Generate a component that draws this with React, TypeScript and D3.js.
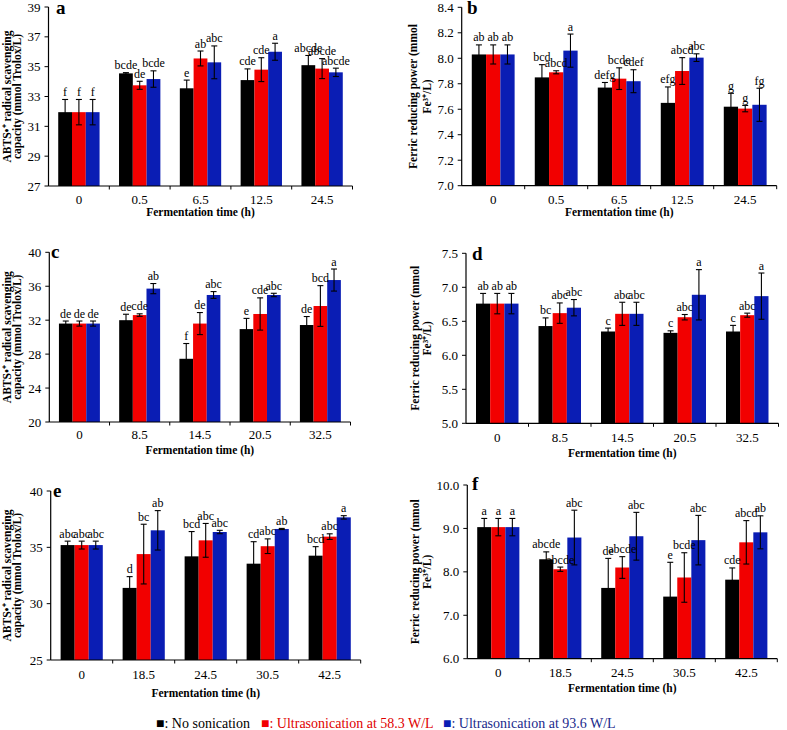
import React from "react";
import * as d3 from "d3";

const W = 787;
const H = 730;

// ---------- Data ----------
const catsA = ["0", "0.5", "6.5", "12.5", "24.5"];
const noA = [31.95, 34.55, 33.55, 34.1, 35.1];
const noAErr = [0.85, 0.05, 0.55, 0.75, 0.65];
const u58A = [31.95, 33.75, 35.55, 34.8, 34.87];
const u58AErr = [0.85, 0.27, 0.5, 0.8, 0.67];
const u93A = [31.95, 34.17, 35.29, 36.0, 34.62];
const u93AErr = [0.85, 0.55, 1.1, 0.57, 0.28];
const noALab = ["f", "bcde", "e", "cde", "abcde"];
const u58ALab = ["f", "de", "ab", "cde", "abcde"];
const u93ALab = ["f", "bcde", "abc", "a", "abcde"];
const ticksA = [27, 29, 31, 33, 35, 37, 39];

const catsB = ["0", "0.5", "6.5", "12.5", "24.5"];
const noB = [8.03, 7.85, 7.77, 7.65, 7.62];
const noBErr = [0.075, 0.1, 0.04, 0.125, 0.105];
const u58B = [8.03, 7.89, 7.84, 7.9, 7.605];
const u58BErr = [0.075, 0.012, 0.085, 0.105, 0.025];
const u93B = [8.03, 8.06, 7.82, 8.005, 7.635];
const u93BErr = [0.075, 0.13, 0.09, 0.03, 0.13];
const noBLab = ["ab", "bcd", "defg", "efg", "g"];
const u58BLab = ["ab", "abcd", "bcde", "abcd", "g"];
const u93BLab = ["ab", "a", "cdef", "abc", "fg"];
const ticksB = [7.0, 7.2, 7.4, 7.6, 7.8, 8.0, 8.2, 8.4];

const catsC = ["0", "8.5", "14.5", "20.5", "32.5"];
const noC = [31.6, 32.0, 27.45, 30.95, 31.43];
const noCErr = [0.3, 0.7, 1.8, 1.26, 1.0];
const u58C = [31.6, 32.6, 31.6, 32.73, 33.67];
const u58CErr = [0.3, 0.15, 1.3, 1.9, 2.4];
const u93C = [31.6, 35.72, 34.97, 34.97, 36.73];
const u93CErr = [0.3, 0.6, 0.4, 0.2, 1.3];
const noCLab = ["de", "de", "f", "e", "de"];
const u58CLab = ["de", "cde", "de", "cde", "bcd"];
const u93CLab = ["de", "ab", "abc", "abc", "a"];
const ticksC = [20, 24, 28, 32, 36, 40];

const catsD = ["0", "8.5", "14.5", "20.5", "32.5"];
const noD = [6.76, 6.43, 6.35, 6.33, 6.35];
const noDErr = [0.15, 0.12, 0.05, 0.03, 0.09];
const u58D = [6.76, 6.62, 6.61, 6.56, 6.59];
const u58DErr = [0.15, 0.15, 0.17, 0.04, 0.03];
const u93D = [6.76, 6.7, 6.61, 6.89, 6.87];
const u93DErr = [0.15, 0.12, 0.17, 0.37, 0.34];
const noDLab = ["ab", "bc", "c", "c", "c"];
const u58DLab = ["ab", "abc", "abc", "abc", "abc"];
const u93DLab = ["ab", "abc", "abc", "a", "a"];
const ticksD = [5.0, 5.5, 6.0, 6.5, 7.0, 7.5];

const catsE = ["0", "18.5", "24.5", "30.5", "42.5"];
const noE = [35.2, 31.4, 34.2, 33.55, 34.26];
const noEErr = [0.35, 1.0, 2.2, 1.95, 0.8];
const u58E = [35.2, 34.4, 35.62, 35.1, 35.95];
const u58EErr = [0.35, 2.65, 1.5, 0.65, 0.25];
const u93E = [35.2, 36.51, 36.36, 36.63, 37.66];
const u93EErr = [0.35, 1.75, 0.15, 0.05, 0.15];
const noELab = ["abc", "d", "bcd", "cd", "bcd"];
const u58ELab = ["abc", "bc", "abc", "abc", "abc"];
const u93ELab = ["abc", "ab", "abc", "ab", "a"];
const ticksE = [25, 30, 35, 40];

const catsF = ["0", "18.5", "24.5", "30.5", "42.5"];
const noF = [9.03, 8.29, 7.63, 7.43, 7.82];
const noFErr = [0.2, 0.17, 0.68, 0.79, 0.27];
const u58F = [9.03, 8.06, 8.1, 7.87, 8.68];
const u58FErr = [0.2, 0.05, 0.25, 0.57, 0.5];
const u93F = [9.03, 8.79, 8.82, 8.73, 8.91];
const u93FErr = [0.2, 0.63, 0.55, 0.57, 0.38];
const noFLab = ["a", "abcde", "de", "e", "cde"];
const u58FLab = ["a", "abcde", "abcde", "bcde", "abcd"];
const u93FLab = ["a", "abc", "abc", "abc", "ab"];
const ticksF = [6.0, 7.0, 8.0, 9.0, 10.0];

const seriesNames = ["No sonication", "Ultrasonication at 58.3 W/L", "Ultrasonication at 93.6 W/L"];
const colors = ["#000000", "#f20000", "#0a1db4"];
const legendTextColors = ["#000000", "#e00000", "#1a2a8c"];

const abtsTitle = ["ABTS•⁺ radical scavenging", "capacity (mmol Trolox/L)"];
const frapTitle = ["Ferric reducing power (mmol", "Fe³⁺/L)"];

const FONT = "Liberation Serif";

type Panel = {
  letter: string;
  left: number; right: number; top: number; bottom: number;
  domain: [number, number];
  ticks: number[];
  fmt: (v: number) => string;
  cats: string[];
  vals: number[][];
  errs: number[][];
  labs: string[][];
  title: string[];
  titleX: [number, number];
  tickOff: number;
  xTitleOff: number;
  letterX: number; letterY: number;
};

const fInt = d3.format("d");
const f1 = d3.format(".1f");

const panels: Panel[] = [
  { letter: "a", left: 48.5, right: 352.5, top: 7, bottom: 186, domain: [27, 39], ticks: ticksA, fmt: fInt,
    cats: catsA, vals: [noA, u58A, u93A], errs: [noAErr, u58AErr, u93AErr], labs: [noALab, u58ALab, u93ALab],
    title: abtsTitle, titleX: [11, 21], tickOff: 18, xTitleOff: 30, letterX: 56, letterY: 14 },
  { letter: "b", left: 461.7, right: 776.7, top: 7.3, bottom: 185.7, domain: [7.0, 8.4], ticks: ticksB, fmt: f1,
    cats: catsB, vals: [noB, u58B, u93B], errs: [noBErr, u58BErr, u93BErr], labs: [noBLab, u58BLab, u93BLab],
    title: frapTitle, titleX: [417, 431], tickOff: 18, xTitleOff: 30, letterX: 467, letterY: 14 },
  { letter: "c", left: 49.3, right: 350.5, top: 252.3, bottom: 422, domain: [20, 40], ticks: ticksC, fmt: fInt,
    cats: catsC, vals: [noC, u58C, u93C], errs: [noCErr, u58CErr, u93CErr], labs: [noCLab, u58CLab, u93CLab],
    title: abtsTitle, titleX: [11, 21], tickOff: 17, xTitleOff: 32, letterX: 51, letterY: 258 },
  { letter: "d", left: 466, right: 778.5, top: 253.3, bottom: 423.3, domain: [5.0, 7.5], ticks: ticksD, fmt: f1,
    cats: catsD, vals: [noD, u58D, u93D], errs: [noDErr, u58DErr, u93DErr], labs: [noDLab, u58DLab, u93DLab],
    title: frapTitle, titleX: [419, 431], tickOff: 19, xTitleOff: 34, letterX: 472, letterY: 260 },
  { letter: "e", left: 50.7, right: 360.7, top: 491, bottom: 660, domain: [25, 40], ticks: ticksE, fmt: fInt,
    cats: catsE, vals: [noE, u58E, u93E], errs: [noEErr, u58EErr, u93EErr], labs: [noELab, u58ELab, u93ELab],
    title: abtsTitle, titleX: [11, 21], tickOff: 19, xTitleOff: 37, letterX: 53, letterY: 497 },
  { letter: "f", left: 467.3, right: 777.3, top: 485, bottom: 658.7, domain: [6.0, 10.0], ticks: ticksF, fmt: f1,
    cats: catsF, vals: [noF, u58F, u93F], errs: [noFErr, u58FErr, u93FErr], labs: [noFLab, u58FLab, u93FLab],
    title: frapTitle, titleX: [419, 431], tickOff: 18, xTitleOff: 33, letterX: 472, letterY: 490 },
];

function PanelView({ p }: { p: Panel }) {
  const y = d3.scaleLinear().domain(p.domain).range([p.bottom, p.top]);
  const x = d3.scaleBand<string>().domain(p.cats).range([p.left, p.right]).paddingInner(0.32).paddingOuter(0.16);
  const sx = d3.scaleBand<number>().domain([0, 1, 2]).range([0, x.bandwidth()]).padding(0);
  const bw = sx.bandwidth();
  const step = (p.right - p.left) / p.cats.length;
  const boundaries = d3.range(p.cats.length + 1).map((i) => p.left + i * step);
  const midY = (p.top + p.bottom) / 2;
  return (
    <g>
      {p.vals.map((vals, s) =>
        vals.map((v, i) => (
          <rect key={`b${s}-${i}`} x={(x(p.cats[i]) as number) + (sx(s) as number)} y={y(v)}
            width={bw} height={p.bottom - y(v)} fill={colors[s]} />
        ))
      )}
      {p.vals.map((vals, s) =>
        vals.map((v, i) => {
          const cx = (x(p.cats[i]) as number) + (sx(s) as number) + bw / 2;
          const e = p.errs[s][i];
          const y1 = y(v + e), y2 = y(v - e);
          return (
            <g key={`e${s}-${i}`} stroke="#000" strokeWidth={1.1}>
              <line x1={cx} x2={cx} y1={y1} y2={y2} />
              <line x1={cx - 3} x2={cx + 3} y1={y1} y2={y1} />
              <line x1={cx - 3} x2={cx + 3} y1={y2} y2={y2} />
            </g>
          );
        })
      )}
      {p.vals.map((vals, s) =>
        vals.map((v, i) => {
          const cx = (x(p.cats[i]) as number) + (sx(s) as number) + bw / 2;
          const e = p.errs[s][i];
          return (
            <text key={`l${s}-${i}`} x={cx} y={y(v + e) - 3.5} textAnchor="middle" fontSize={12}>{p.labs[s][i]}</text>
          );
        })
      )}
      <line x1={p.left} x2={p.left} y1={p.top} y2={p.bottom} stroke="#000" strokeWidth={1.2} />
      <line x1={p.left} x2={p.right} y1={p.bottom} y2={p.bottom} stroke="#000" strokeWidth={1.2} />
      {p.ticks.map((t) => (
        <g key={`yt${t}`}>
          <line x1={p.left - 4} x2={p.left} y1={y(t)} y2={y(t)} stroke="#000" strokeWidth={1} />
          <text x={p.left - 8} y={y(t) + 4.5} textAnchor="end" fontSize={13}>{p.fmt(t)}</text>
        </g>
      ))}
      {boundaries.slice(1).map((bx, i) => (
        <line key={`xt${i}`} x1={bx} x2={bx} y1={p.bottom} y2={p.bottom + 3.5} stroke="#000" strokeWidth={1} />
      ))}
      {p.cats.map((c) => (
        <text key={`xl${c}`} x={(x(c) as number) + x.bandwidth() / 2} y={p.bottom + p.tickOff} textAnchor="middle"
          fontSize={13}>{c}</text>
      ))}
      <text x={(p.left + p.right) / 2} y={p.bottom + p.xTitleOff} textAnchor="middle" fontSize={11.5}
        fontWeight="bold">Fermentation time (h)</text>
      {p.title.map((t, k) => (
        <text key={`yt-${k}`} transform={`translate(${p.titleX[k]},${midY}) rotate(-90)`} textAnchor="middle"
          fontSize={11.5} fontWeight="bold">{t}</text>
      ))}
      <text x={p.letterX} y={p.letterY} fontSize={19} fontWeight="bold">{p.letter}</text>
    </g>
  );
}

export default function App() {
  const legendX = [156, 261, 443];
  return (
    <svg width={W} height={H} viewBox={`0 0 ${W} ${H}`} fontFamily={FONT}
      style={{ position: "absolute", left: 0, top: 0, background: "#fff", fontFamily: FONT }}>
      <rect width={W} height={H} fill="#fff" />
      {panels.map((p) => (
        <PanelView key={p.letter} p={p} />
      ))}
      {seriesNames.map((n, i) => (
        <text key={n} x={legendX[i]} y={728} fontSize={14} fill={legendTextColors[i]}>
          <tspan fill={colors[i]}>■</tspan>{`: ${n}`}
        </text>
      ))}
    </svg>
  );
}
